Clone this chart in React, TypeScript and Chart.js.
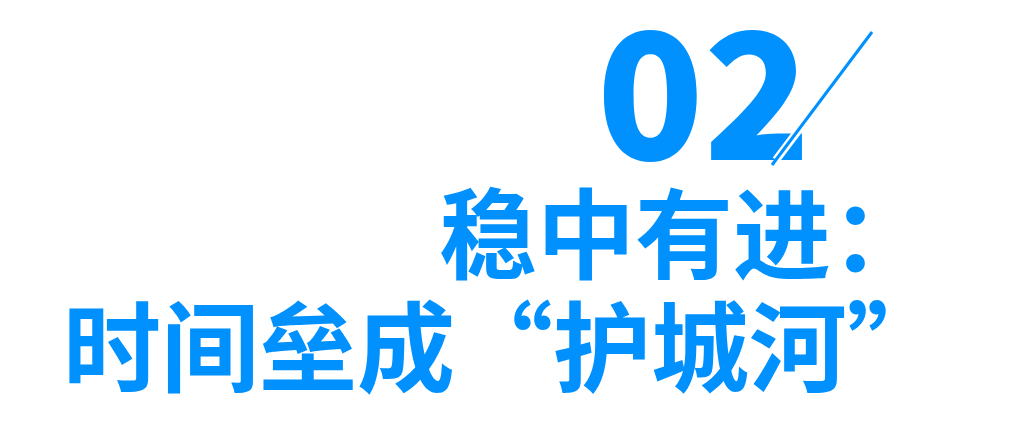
import { useEffect, useRef } from 'react';
import { Chart, registerables, Plugin } from 'chart.js';

Chart.register(...registerables);

// content of the title card
const sectionNumber = '02';
const headingLines = ['稳中有进：', '时间垒成“护城河”'];
const brandBlue = '#0091ff';

const FONT = '"Noto Sans CJK SC", "Noto Sans", sans-serif';

const titleCardPlugin: Plugin = {
  id: 'titleCard',
  beforeDraw(chart) {
    const { ctx, width, height } = chart;
    ctx.save();
    ctx.fillStyle = '#ffffff';
    ctx.fillRect(0, 0, width, height);
    ctx.restore();
  },
  afterDraw(chart) {
    const { ctx } = chart;
    ctx.save();

    // big section number
    ctx.fillStyle = brandBlue;
    ctx.font = `900 176px ${FONT}`;
    ctx.textAlign = 'right';
    ctx.textBaseline = 'alphabetic';
    ctx.fillText(sectionNumber, 811, 160);

    // slash accent with a white halo where it crosses the "2"
    ctx.lineCap = 'butt';
    ctx.strokeStyle = '#ffffff';
    ctx.lineWidth = 8;
    ctx.beginPath();
    ctx.moveTo(868, 38);
    ctx.lineTo(776, 160);
    ctx.stroke();
    ctx.strokeStyle = brandBlue;
    ctx.lineWidth = 3;
    ctx.beginPath();
    ctx.moveTo(872, 32);
    ctx.lineTo(772, 165);
    ctx.stroke();

    // heading lines, right aligned
    ctx.font = `bold 98px ${FONT}`;
    ctx.textAlign = 'right';
    ctx.textBaseline = 'middle';
    const rowX = [929, 945];
    const rowY = [234, 347];
    headingLines.forEach((line, i) => {
      ctx.fillText(line, rowX[i], rowY[i]);
    });

    ctx.restore();
  },
};

export default function App() {
  const canvasRef = useRef<HTMLCanvasElement>(null);
  const chartRef = useRef<Chart | null>(null);

  useEffect(() => {
    document.body.style.margin = '0';
    if (!canvasRef.current) return;
    chartRef.current?.destroy();

    chartRef.current = new Chart(canvasRef.current, {
      type: 'scatter',
      data: { datasets: [{ data: [] }] },
      options: {
        animation: false,
        responsive: true,
        maintainAspectRatio: false,
        layout: { padding: 0 },
        scales: {
          x: { display: false },
          y: { display: false },
        },
        plugins: {
          legend: { display: false },
          tooltip: { enabled: false },
        },
      },
      plugins: [titleCardPlugin],
    });

    return () => { chartRef.current?.destroy(); chartRef.current = null; };
  }, []);

  return (
    <div style={{ position: 'relative', width: 1026, height: 425 }}>
      <canvas ref={canvasRef} role="img" aria-label="稳中有进：时间垒成护城河" />
    </div>
  );
}
